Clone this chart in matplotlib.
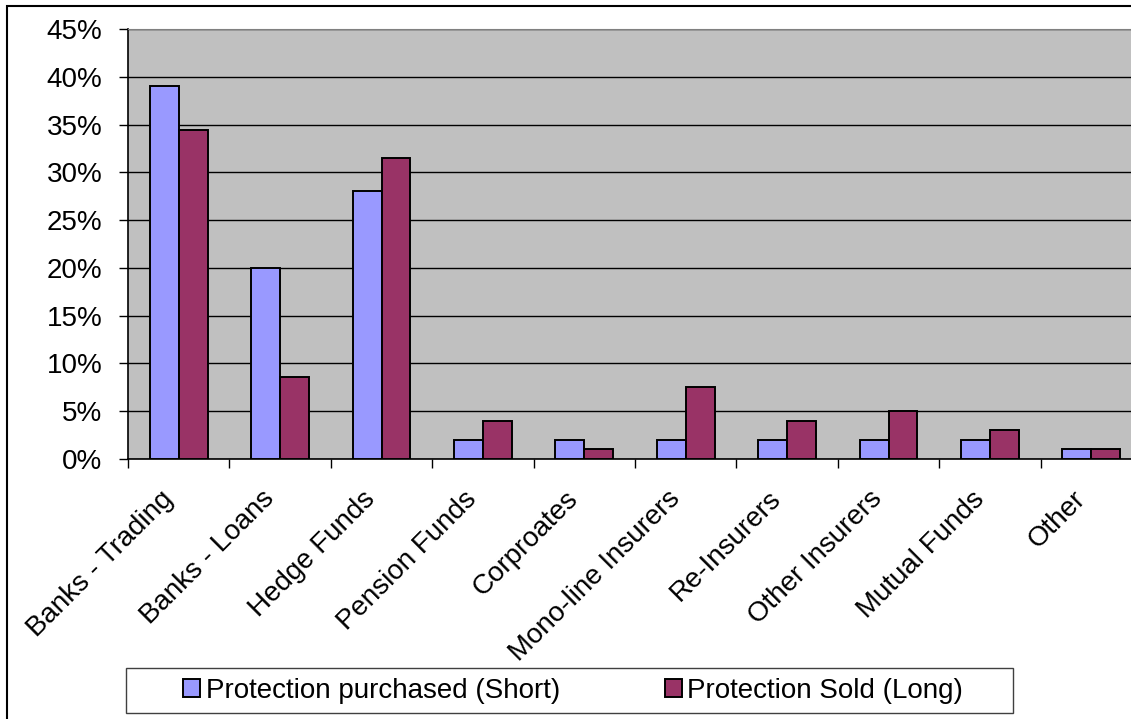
import numpy as np
import matplotlib.pyplot as plt
import matplotlib.transforms as mtransforms
from matplotlib.patches import Rectangle
from matplotlib.ticker import FuncFormatter, FixedLocator

plt.rcParams['font.family'] = ['Liberation Sans', 'DejaVu Sans']

# kategorier og verdier (prosent)
categories = ["Banks - Trading", "Banks - Loans", "Hedge Funds", "Pension Funds",
              "Corproates", "Mono-line Insurers", "Re-Insurers", "Other Insurers",
              "Mutual Funds", "Other"]
purchased = [39, 20, 28, 2, 2, 2, 2, 2, 2, 1]
sold = [34.4, 8.6, 31.5, 4, 1, 7.5, 4, 5, 3, 1]
series_names = ["Protection purchased (Short)", "Protection Sold (Long)"]
y_ticks = [0, 5, 10, 15, 20, 25, 30, 35, 40, 45]

W, H = 1131, 719
fig = plt.figure(figsize=(W/100, H/100), dpi=100)

# ramme rundt hele figuren (kuttet av til hoyre og nede)
fig.patches.append(Rectangle((7/W, -0.01), 1.2, 1 - 6/H + 0.01, transform=fig.transFigure,
                             fill=False, edgecolor='black', linewidth=1.5, zorder=0))

left, right, top, bottom = 128, 1142, 29, 459
ax = fig.add_axes([left/W, 1 - bottom/H, (right-left)/W, (bottom-top)/H])
ax.set_facecolor('#C0C0C0')

x = np.arange(len(categories))
bw = 1/3.5
ax.bar(x - bw/2, purchased, bw, color='#9999FF', edgecolor='black', linewidth=1.4,
       label=series_names[0], zorder=3)
ax.bar(x + bw/2, sold, bw, color='#993366', edgecolor='black', linewidth=1.4,
       label=series_names[1], zorder=3)

ax.set_xlim(-0.5, len(categories) - 0.5)
ax.set_ylim(0, 45)
ax.set_yticks(y_ticks)
ax.yaxis.set_major_formatter(FuncFormatter(lambda v, p: f"{v:.0f}%"))
ax.yaxis.grid(True, color='black', linewidth=1)
ax.set_axisbelow(True)

ax.xaxis.set_major_locator(FixedLocator(x - 0.5))
ax.set_xticklabels([])
ax.xaxis.set_minor_locator(FixedLocator(x))
ax.set_xticklabels(categories, minor=True, rotation=45, ha='right', va='top',
                   rotation_mode='anchor', fontsize=20)
ax.tick_params(axis='x', which='minor', length=0, pad=0)
ax.tick_params(axis='x', which='major', length=6.5, width=1, color='black', direction='out')
ax.tick_params(axis='y', length=6.5, width=1, direction='out', pad=12, labelsize=20)

# flytt kategorinavnene ned og til venstre, som i Excel
offset = mtransforms.ScaledTranslation(-0.19, -0.27, fig.dpi_scale_trans)
for lbl in ax.get_xticklabels(minor=True):
    lbl.set_transform(lbl.get_transform() + offset)

for s in ['top', 'right']:
    ax.spines[s].set_color('#808080')
for s in ['left', 'bottom']:
    ax.spines[s].set_color('black')
    ax.spines[s].set_linewidth(1.2)

# forklaring med egen boks
fig.patches.append(Rectangle((126/W, 1 - 713/H), (1013-126)/W, (713-668)/H,
                             transform=fig.transFigure, facecolor='white',
                             edgecolor='#404040', linewidth=1, zorder=1))
leg = fig.legend(loc='center left', bbox_to_anchor=(183/W, 1 - 690.5/H),
                 ncol=2, fontsize=20, frameon=False,
                 handlelength=0.61, handleheight=0.61, handletextpad=0.2,
                 borderaxespad=0, borderpad=0, columnspacing=3.78)
leg.set_zorder(2)

fig.savefig('out.png', dpi=100)
